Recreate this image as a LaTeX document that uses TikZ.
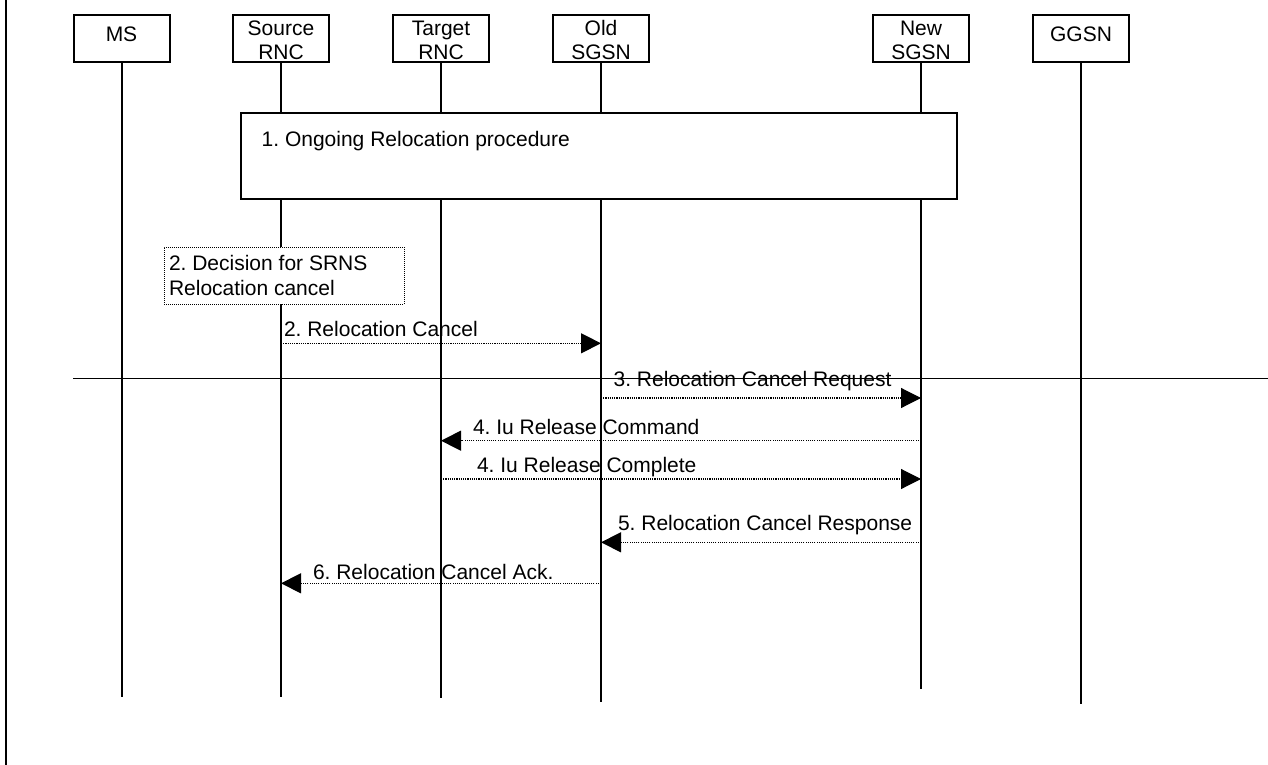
\documentclass[tikz,border=0pt]{standalone}
\usepackage{fontspec}
\setmainfont{Liberation Sans}
\usetikzlibrary{arrows.meta}
\frenchspacing
\newcommand{\topstrut}{\rule{0pt}{17.6pt}}
\begin{document}
\begin{tikzpicture}[x=1pt,y=-1pt,
  every node/.style={font=\fontsize{21}{24.3}\selectfont, inner sep=0pt, outer sep=0pt},
  entity/.style={draw, line width=2pt, minimum width=96pt, minimum height=47.6pt,
                 anchor=north, align=center},
  onetext/.style={text height=15pt, text depth=8.6pt},
  lifeline/.style={line width=2pt},
  procbox/.style={draw, line width=2pt, fill=white, anchor=north west},
  notebox/.style={draw, line width=1pt, dash pattern=on 1pt off 1pt, fill=white, anchor=north west},
  msg/.style={line width=1.1pt, dash pattern=on 1.1pt off 1.1pt,
              -{Triangle[length=20pt,width=20pt]}},
  lbl/.style={anchor=base west},
]
\useasboundingbox (0,0) rectangle (1268,765);

% page frame line on the left
\coordinate (frame-top) at (6,0);
\coordinate (frame-bot) at (6,765);
\draw[line width=1.8pt] (frame-top) -- (frame-bot);

% entities
\node[entity,onetext] (ms)  at (121.5,14.7) {MS};
\node[entity] (srnc) at (281,14.7)  {\topstrut Source\\RNC};
\node[entity] (trnc) at (441,14.7)  {\topstrut Target\\RNC};
\node[entity] (osgsn) at (601,14.7) {\topstrut Old\\SGSN};
\node[entity] (nsgsn) at (921,14.7) {\topstrut New\\SGSN};
\node[entity,onetext] (ggsn) at (1081,14.7) {GGSN};

% lifeline ends
\coordinate (ms-end)    at (121.5,696.7);
\coordinate (srnc-end)  at (281,696.7);
\coordinate (trnc-end)  at (441,697.7);
\coordinate (osgsn-end) at (601,701.7);
\coordinate (nsgsn-end) at (921,689.3);
\coordinate (ggsn-end)  at (1081,704);

\draw[lifeline] (ms.south) -- (ms-end);
\draw[lifeline] (srnc.south) -- (srnc-end);
\draw[lifeline] (trnc.south) -- (trnc-end);
\draw[lifeline] (osgsn.south) -- (osgsn-end);
\draw[lifeline] (nsgsn.south) -- (nsgsn-end);
\draw[lifeline] (ggsn.south) -- (ggsn-end);

% step 1: ongoing relocation
\node[procbox, minimum width=715.4pt, minimum height=86pt] (proc) at (241.3,113) {};
\node[lbl] (proc-text) at (261.7,146.7) {1. Ongoing Relocation procedure};

% step 2: decision in the source RNC
\node[notebox, minimum width=240pt, minimum height=57pt] (decision) at (164,247) {};
\node[anchor=north west, align=left, font=\fontsize{21}{25.3}\selectfont]
  (decision-text) at (169,255.4) {2. Decision for SRNS\\Relocation cancel};

% separator line
\coordinate (sep-l) at (73.3,378.7);
\coordinate (sep-r) at (1268,378.7);
\draw[line width=1.2pt] (sep-l) -- (sep-r);

% message end points on the lifelines
\coordinate (s2) at (281,343.3);   \coordinate (o2) at (601,343.3);
\coordinate (o3) at (601,398);     \coordinate (n3) at (921,398);
\coordinate (n4a) at (921,440.7);  \coordinate (t4a) at (441,440.7);
\coordinate (t4b) at (441,479);    \coordinate (n4b) at (921,479);
\coordinate (n5) at (921,542.3);   \coordinate (o5) at (601,542.3);
\coordinate (o6) at (601,583.3);   \coordinate (s6) at (281,583.3);

\draw[msg] (s2) -- (o2);
\draw[msg] (o3) -- (n3);
\draw[msg] (n4a) -- (t4a);
\draw[msg] (t4b) -- (n4b);
\draw[msg] (n5) -- (o5);
\draw[msg] (o6) -- (s6);

% message labels
\node[lbl] (l2)  at (284,336.7)   {2. Relocation Cancel};
\node[lbl] (l3)  at (613.6,386.7) {3. Relocation Cancel Request};
\node[lbl] (l4a) at (473,434)     {4. Iu Release Command};
\node[lbl] (l4b) at (477,472.7)   {4. Iu Release Complete};
\node[lbl] (l5)  at (618,530.7)   {5. Relocation Cancel Response};
\node[lbl] (l6)  at (313,579.5)   {6. Relocation Cancel Ack.};
\end{tikzpicture}
\end{document}
